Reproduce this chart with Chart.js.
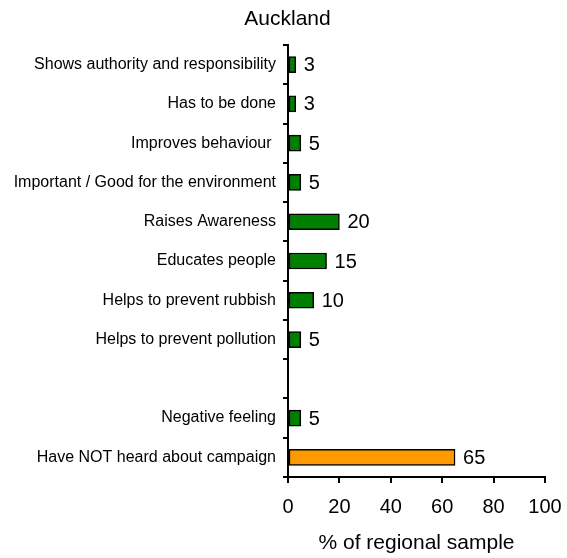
<!DOCTYPE html>
<html>
<head>
<meta charset="utf-8">
<script src="https://cdn.jsdelivr.net/npm/chart.js@4"></script>
<style>
  html, body { margin: 0; padding: 0; background: #fff; }
  #wrap { width: 567px; height: 558px; }
</style>
</head>
<body>
<div id="wrap"><canvas id="c" width="567" height="558"></canvas></div>
<script>
const categories = [
  'Shows authority and responsibility',
  'Has to be done',
  'Improves behaviour ',
  'Important / Good for the environment',
  'Raises Awareness',
  'Educates people',
  'Helps to prevent rubbish',
  'Helps to prevent pollution',
  '',
  'Negative feeling',
  'Have NOT heard about campaign'
];
const values = [3, 3, 5, 5, 20, 15, 10, 5, null, 5, 65];
const barColors = ['#008000','#008000','#008000','#008000','#008000','#008000','#008000','#008000','#008000','#008000','#FF9900'];
const xTicks = [0, 20, 40, 60, 80, 100];
const chartTitle = 'Auckland';
const xAxisTitle = '% of regional sample';

const FONT = "'Liberation Sans', Arial, sans-serif";

const valueLabels = {
  id: 'valueLabels',
  afterDatasetsDraw(chart) {
    const ctx = chart.ctx;
    const meta = chart.getDatasetMeta(0);
    ctx.save();
    ctx.font = '20px ' + FONT;
    ctx.fillStyle = '#000';
    ctx.textAlign = 'left';
    ctx.textBaseline = 'middle';
    meta.data.forEach((bar, i) => {
      const v = values[i];
      if (v === null || v === undefined) return;
      ctx.fillText(String(v), bar.x + 8, bar.y + 1);
    });
    ctx.restore();
  }
};

const topTitle = {
  id: 'topTitle',
  afterDraw(chart) {
    const ctx = chart.ctx;
    ctx.save();
    ctx.font = '21px ' + FONT;
    ctx.fillStyle = '#000';
    ctx.textAlign = 'center';
    ctx.textBaseline = 'middle';
    ctx.fillText(chartTitle, chart.width / 2 + 4, 19);
    ctx.restore();
  }
};

new Chart(document.getElementById('c'), {
  type: 'bar',
  data: {
    labels: categories,
    datasets: [{
      data: values,
      backgroundColor: barColors,
      borderColor: '#000',
      borderWidth: 1.5,
      borderSkipped: false,
      barThickness: 16
    }]
  },
  options: {
    indexAxis: 'y',
    responsive: false,
    animation: false,
    devicePixelRatio: 1,
    layout: { padding: { left: 0, right: 22, top: 45, bottom: 0 } },
    plugins: {
      legend: { display: false },
      tooltip: { enabled: false },
      title: { display: false }
    },
    scales: {
      x: {
        min: 0,
        max: 100,
        afterBuildTicks(scale) { scale.ticks = xTicks.map(v => ({ value: v })); },
        afterFit(scale) { scale.height = 81; scale.paddingRight = 0; scale.paddingLeft = 0; },
        border: { display: true, color: '#000', width: 2 },
        grid: { drawOnChartArea: false, drawTicks: true, tickLength: 6, color: '#000', lineWidth: 2 },
        ticks: { color: '#000', padding: 12, font: { family: FONT, size: 20 }, maxRotation: 0 },
        title: {
          display: true,
          text: xAxisTitle,
          color: '#000',
          font: { family: FONT, size: 21 },
          padding: { top: 0, bottom: 2 }
        }
      },
      y: {
        afterFit(scale) { scale.width = 288; scale.paddingTop = 0; scale.paddingBottom = 0; },
        border: { display: true, color: '#000', width: 2 },
        grid: { offset: true, drawOnChartArea: false, drawTicks: true, tickLength: 5, color: '#000', lineWidth: 2 },
        ticks: { color: '#000', padding: 7, font: { family: FONT, size: 16 }, autoSkip: false }
      }
    }
  },
  plugins: [valueLabels, topTitle]
});
</script>
</body>
</html>
